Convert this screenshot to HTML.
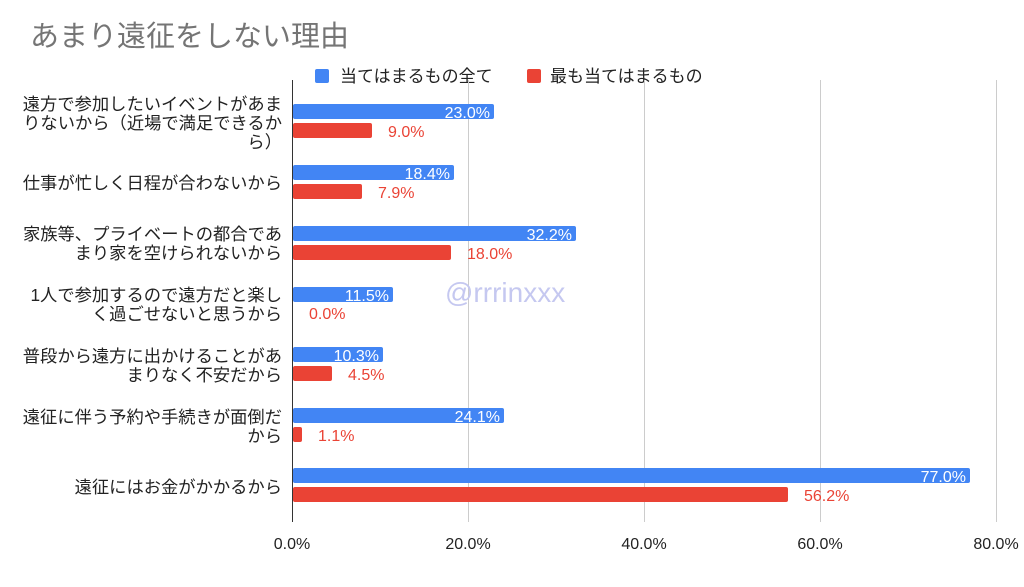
<!DOCTYPE html>
<html><head><meta charset="utf-8"><style>
body{margin:0;background:#fff;width:1024px;height:582px;overflow:hidden;font-family:"Liberation Sans","Noto Sans CJK JP",sans-serif;}
</style></head><body>
<svg width="1024" height="582" xmlns="http://www.w3.org/2000/svg" font-family="Liberation Sans, Noto Sans CJK JP, sans-serif">
<text x="30" y="46" font-size="29" fill="#757575">あまり遠征をしない理由</text>
<rect x="315" y="69" width="14" height="14" rx="2" fill="#4285f4"/>
<text x="340" y="82" font-size="17" fill="#222">当てはまるもの全て</text>
<rect x="527" y="69" width="14" height="14" rx="2" fill="#ea4335"/>
<text x="550" y="82" font-size="17" fill="#222">最も当てはまるもの</text>
<g stroke="#ccc" stroke-width="1">
<line x1="468.5" y1="80" x2="468.5" y2="522"/>
<line x1="644.5" y1="80" x2="644.5" y2="522"/>
<line x1="820.5" y1="80" x2="820.5" y2="522"/>
<line x1="996.5" y1="80" x2="996.5" y2="522"/>
</g>
<line x1="292.5" y1="80" x2="292.5" y2="522" stroke="#333" stroke-width="1"/>
<g font-size="16" fill="#222" text-anchor="middle">
<text x="292" y="549">0.0%</text><text x="468" y="549">20.0%</text><text x="644" y="549">40.0%</text><text x="820" y="549">60.0%</text><text x="996" y="549">80.0%</text>
</g>
<g font-size="17.3" fill="#222" text-anchor="end">
<text x="282" y="110">遠方で参加したいイベントがあま</text>
<text x="282" y="129">りないから（近場で満足できるか</text>
<text x="282" y="148">ら）</text>
<text x="282" y="189">仕事が忙しく日程が合わないから</text>
<text x="282" y="240">家族等、プライベートの都合であ</text>
<text x="282" y="259">まり家を空けられないから</text>
<text x="282" y="301">1人で参加するので遠方だと楽し</text>
<text x="282" y="320">く過ごせないと思うから</text>
<text x="282" y="362">普段から遠方に出かけることがあ</text>
<text x="282" y="381">まりなく不安だから</text>
<text x="282" y="423">遠征に伴う予約や手続きが面倒だ</text>
<text x="282" y="442">から</text>
<text x="282" y="493">遠征にはお金がかかるから</text>
</g>
<g fill="#4285f4">
<rect x="293" y="104" width="201" height="15" rx="2"/>
<rect x="293" y="165" width="161" height="15" rx="2"/>
<rect x="293" y="226" width="283" height="15" rx="2"/>
<rect x="293" y="287" width="100" height="15" rx="2"/>
<rect x="293" y="347" width="90" height="15" rx="2"/>
<rect x="293" y="408" width="211" height="15" rx="2"/>
<rect x="293" y="468" width="677" height="15" rx="2"/>
</g>
<g fill="#ea4335">
<rect x="293" y="123" width="79" height="15" rx="2"/>
<rect x="293" y="184" width="69" height="15" rx="2"/>
<rect x="293" y="245" width="158" height="15" rx="2"/>
<rect x="293" y="366" width="39" height="15" rx="2"/>
<rect x="293" y="427" width="9" height="15" rx="2"/>
<rect x="293" y="487" width="495" height="15" rx="2"/>
</g>
<g font-size="16" fill="#fff" text-anchor="end">
<text x="490" y="118">23.0%</text><text x="450" y="179">18.4%</text><text x="572" y="240">32.2%</text><text x="389" y="301">11.5%</text><text x="379" y="361">10.3%</text><text x="500" y="422">24.1%</text><text x="966" y="482">77.0%</text>
</g>
<g font-size="16" fill="#ea4335">
<text x="388" y="137">9.0%</text><text x="378" y="198">7.9%</text><text x="467" y="259">18.0%</text><text x="309" y="319">0.0%</text><text x="348" y="380">4.5%</text><text x="318" y="441">1.1%</text><text x="804" y="501">56.2%</text>
</g>
<text x="445" y="302" font-size="28" fill="#c5c8f0">@rrrinxxx</text>
</svg>
</body></html>
